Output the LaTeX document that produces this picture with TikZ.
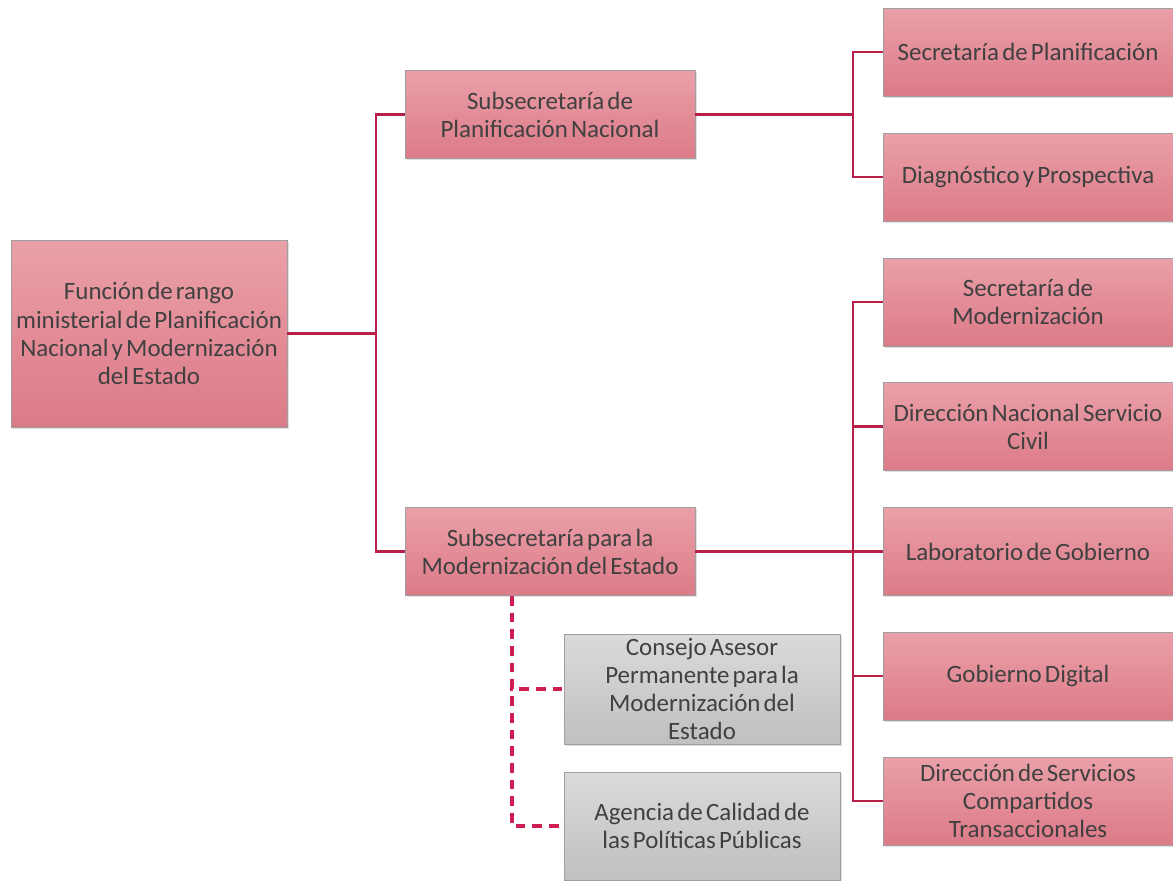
\documentclass[tikz,border=0pt]{standalone}
\usepackage{fontspec}
\setmainfont{Carlito}
\usepackage{tikz}
\usetikzlibrary{shadows}
\definecolor{boxtop}{RGB}{234,160,168}
\definecolor{boxbot}{RGB}{220,122,136}
\definecolor{greytop}{RGB}{218,218,218}
\definecolor{greybot}{RGB}{192,192,192}
\definecolor{linkcolor}{RGB}{185,30,72}
\definecolor{dashcolor}{RGB}{208,30,82}
\definecolor{mytextcolor}{RGB}{64,64,64}

\begin{document}
\begin{tikzpicture}[x=0.02cm, y=-0.02cm,
  unit/.style={draw=gray!75, line width=0.5pt, top color=boxtop, bottom color=boxbot,
    text=mytextcolor, align=center, inner sep=0pt,
    minimum width=5.8cm, minimum height=1.76cm, text width=5.8cm,
    execute at begin node={\spaceskip=1.8pt\relax},
    drop shadow={shadow xshift=1pt, shadow yshift=-1pt, opacity=0.25}},
  adviser/.style={unit, top color=greytop, bottom color=greybot,
    minimum width=5.52cm, text width=5.52cm},
  link/.style={draw=linkcolor, line width=1.4pt},
  dashlink/.style={draw=dashcolor, line width=1.8pt, dash pattern=on 5.5pt off 4pt}]
\fontsize{14.2}{16}\selectfont
\useasboundingbox (0,0) rectangle (1173,880);
\node[unit, minimum width=5.52cm, text width=5.52cm, minimum height=3.74cm] (root) at (149,333.5)
  {Función de rango\\ministerial de Planificación\\Nacional y Modernización\\del Estado};
\node[unit] (subplan) at (550,114.5) {Subsecretaría de\\Planificación Nacional};
\node[unit] (submod) at (550,551.5) {Subsecretaría para la\\Modernización del Estado};
\node[unit] (secplan) at (1028,52) {Secretaría de Planificación};
\node[unit] (diag) at (1028,177) {Diagnóstico y Prospectiva};
\node[unit] (secmod) at (1028,302) {Secretaría de\\Modernización};
\node[unit] (dnsc) at (1028,426.5) {Dirección Nacional Servicio\\Civil};
\node[unit] (lab) at (1028,551.5) {Laboratorio de Gobierno};
\node[unit] (gobdig) at (1028,676) {Gobierno Digital};
\node[unit] (dsct) at (1028,801) {Dirección de Servicios\\Compartidos\\Transaccionales};
\node[adviser, minimum height=2.2cm] (consejo) at (702,689)
  {Consejo Asesor\\Permanente para la\\Modernización del\\Estado};
\node[adviser, minimum height=2.16cm] (agencia) at (702,826)
  {Agencia de Calidad de\\las Políticas Públicas};
% buses
\coordinate (rootbus) at (376,333.5);
\coordinate (planbus) at (853,114.5);
\coordinate (modbus) at (853,551.5);
\coordinate (advbus) at (512,596);
\draw[link] (root.east) -- (rootbus) |- (subplan.west);
\draw[link] (rootbus) |- (submod.west);
\draw[link] (subplan.east) -- (planbus) |- (secplan.west);
\draw[link] (planbus) |- (diag.west);
\draw[link] (submod.east) -- (lab.west);
\draw[link] (modbus) |- (secmod.west);
\draw[link] (modbus) |- (dnsc.west);
\draw[link] (modbus) |- (gobdig.west);
\draw[link] (modbus) |- (dsct.west);
\draw[dashlink] (advbus) |- (consejo.west);
\draw[dashlink] (advbus) |- (agencia.west);
\end{tikzpicture}
\end{document}
